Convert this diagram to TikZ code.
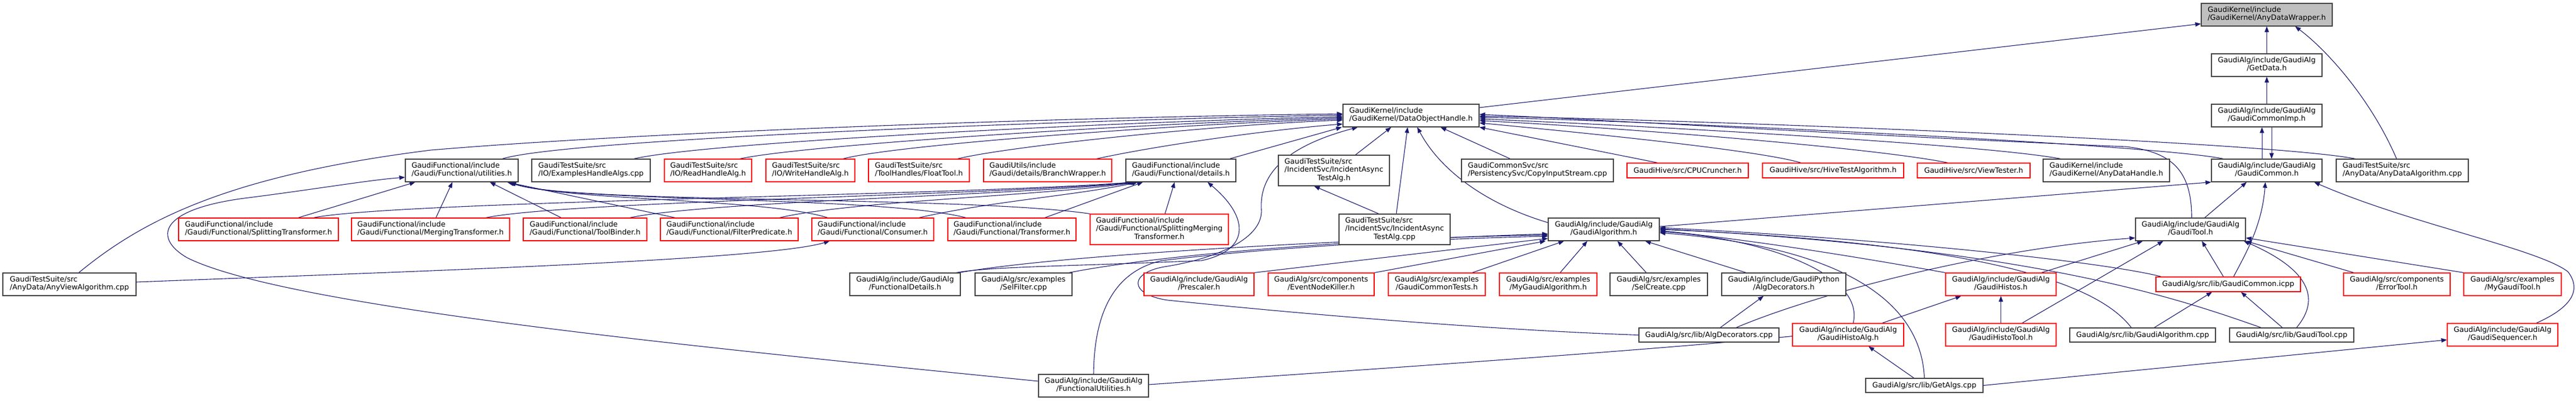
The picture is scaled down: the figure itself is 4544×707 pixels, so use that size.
\documentclass[tikz,border=0pt]{standalone}
\usepackage{fontspec}
\setmainfont{DejaVu Sans}
\usetikzlibrary{arrows.meta}
\pgfdeclarelayer{background}
\pgfsetlayers{background,main}
\definecolor{mb}{RGB}{25,25,112}
\definecolor{bd}{RGB}{64,64,64}
\definecolor{rd}{RGB}{255,0,0}
\definecolor{rootfill}{RGB}{191,191,191}
\newcommand{\two}[2]{\begin{tabular}{@{}l@{}}#1\\\multicolumn{1}{@{}c@{}}{#2}\end{tabular}}
\newcommand{\three}[3]{\begin{tabular}{@{}l@{}}#1\\#2\\\multicolumn{1}{@{}c@{}}{#3}\end{tabular}}
\newcommand{\nd}[7]{\node[#2, minimum width=#5pt, minimum height=#6pt] (#1) at (#3,#4) {#7};}
\tikzset{
 box/.style={draw=bd, line width=1.2pt, fill=white, inner sep=0pt, font=\fontsize{12.9}{14.2}\selectfont, text=black},
 rbox/.style={box, draw=rd},
 edge/.style={draw=mb, line width=1.1pt, {Triangle[length=10pt,width=7.5pt]}-},
}
\begin{document}
\begin{tikzpicture}[x=1pt,y=-1pt]
\useasboundingbox (0,0) rectangle (4544,707);
% row 0-2
\nd{root}{box,fill=rootfill}{3998.5}{26}{231}{40}{\two{GaudiKernel/include}{/GaudiKernel/AnyDataWrapper.h}}
\nd{getdata}{box}{3998.5}{115}{195}{40}{\two{GaudiAlg/include/GaudiAlg}{/GetData.h}}
\nd{commonimp}{box}{3998.5}{204}{195}{40}{\two{GaudiAlg/include/GaudiAlg}{/GaudiCommonImp.h}}
\nd{doh}{box}{2489}{204}{240}{40}{\two{GaudiKernel/include}{/GaudiKernel/DataObjectHandle.h}}
% row 3
\nd{utilities}{box}{814.5}{301}{199}{40}{\two{GaudiFunctional/include}{/Gaudi/Functional/utilities.h}}
\nd{exhandle}{box}{1042.5}{301}{209}{40}{\two{GaudiTestSuite/src}{/IO/ExamplesHandleAlgs.cpp}}
\nd{readh}{rbox}{1249}{301}{154}{40}{\two{GaudiTestSuite/src}{/IO/ReadHandleAlg.h}}
\nd{writeh}{rbox}{1429.5}{301}{157}{40}{\two{GaudiTestSuite/src}{/IO/WriteHandleAlg.h}}
\nd{floattool}{rbox}{1621}{301}{178}{40}{\two{GaudiTestSuite/src}{/ToolHandles/FloatTool.h}}
\nd{branch}{rbox}{1848}{301}{226}{40}{\two{GaudiUtils/include}{/Gaudi/details/BranchWrapper.h}}
\nd{details}{box}{2083}{301}{194}{40}{\two{GaudiFunctional/include}{/Gaudi/Functional/details.h}}
\nd{incalgh}{box}{2353}{301}{196}{54}{\three{GaudiTestSuite/src}{/IncidentSvc/IncidentAsync}{TestAlg.h}}
\nd{copyin}{box}{2712}{301}{268}{40}{\two{GaudiCommonSvc/src}{/PersistencySvc/CopyInputStream.cpp}}
\nd{cpu}{rbox}{2977}{301}{214}{26}{GaudiHive/src/CPUCruncher.h}
\nd{hivetest}{rbox}{3233.5}{301}{249}{26}{GaudiHive/src/HiveTestAlgorithm.h}
\nd{viewtester}{rbox}{3481.5}{301}{199}{26}{GaudiHive/src/ViewTester.h}
\nd{anydatahandle}{box}{3715.5}{301}{223}{40}{\two{GaudiKernel/include}{/GaudiKernel/AnyDataHandle.h}}
\nd{gaudicommon}{box}{3998.5}{301}{195}{40}{\two{GaudiAlg/include/GaudiAlg}{/GaudiCommon.h}}
\nd{anydataalg}{box}{4237.5}{301}{233}{40}{\two{GaudiTestSuite/src}{/AnyData/AnyDataAlgorithm.cpp}}
% row 4
\nd{splittrans}{rbox}{456}{405}{282}{40}{\two{GaudiFunctional/include}{/Gaudi/Functional/SplittingTransformer.h}}
\nd{mergtrans}{rbox}{759.5}{405}{279}{40}{\two{GaudiFunctional/include}{/Gaudi/Functional/MergingTransformer.h}}
\nd{toolbinder}{rbox}{1032}{405}{218}{40}{\two{GaudiFunctional/include}{/Gaudi/Functional/ToolBinder.h}}
\nd{filterpred}{rbox}{1286.5}{405}{243}{40}{\two{GaudiFunctional/include}{/Gaudi/Functional/FilterPredicate.h}}
\nd{consumer}{rbox}{1539.5}{405}{215}{40}{\two{GaudiFunctional/include}{/Gaudi/Functional/Consumer.h}}
\nd{transformer}{rbox}{1785}{405}{226}{40}{\two{GaudiFunctional/include}{/Gaudi/Functional/Transformer.h}}
\nd{splitmerg}{rbox}{2045}{405}{244}{54}{\three{GaudiFunctional/include}{/Gaudi/Functional/SplittingMerging}{Transformer.h}}
\nd{incalgcpp}{box}{2460}{405}{196}{54}{\three{GaudiTestSuite/src}{/IncidentSvc/IncidentAsync}{TestAlg.cpp}}
\nd{gaudialgh}{box}{2829}{405}{196}{40}{\two{GaudiAlg/include/GaudiAlg}{/GaudiAlgorithm.h}}
\nd{gauditool}{box}{3864}{405}{194}{40}{\two{GaudiAlg/include/GaudiAlg}{/GaudiTool.h}}
% row 5
\nd{anyview}{box}{122.5}{502}{235}{40}{\two{GaudiTestSuite/src}{/AnyData/AnyViewAlgorithm.cpp}}
\nd{funcdetails}{box}{1596.5}{502}{195}{40}{\two{GaudiAlg/include/GaudiAlg}{/FunctionalDetails.h}}
\nd{selfilter}{box}{1805.5}{502}{171}{40}{\two{GaudiAlg/src/examples}{/SelFilter.cpp}}
\nd{prescaler}{rbox}{2115}{502}{194}{40}{\two{GaudiAlg/include/GaudiAlg}{/Prescaler.h}}
\nd{eventnode}{rbox}{2330.5}{502}{187}{40}{\two{GaudiAlg/src/components}{/EventNodeKiller.h}}
\nd{commontests}{rbox}{2534.5}{502}{171}{40}{\two{GaudiAlg/src/examples}{/GaudiCommonTests.h}}
\nd{mygaudialg}{rbox}{2731}{502}{172}{40}{\two{GaudiAlg/src/examples}{/MyGaudiAlgorithm.h}}
\nd{selcreate}{box}{2926}{502}{172}{40}{\two{GaudiAlg/src/examples}{/SelCreate.cpp}}
\nd{algdecoh}{box}{3146.5}{502}{219}{40}{\two{GaudiAlg/include/GaudiPython}{/AlgDecorators.h}}
\nd{gaudihistos}{rbox}{3529.5}{502}{195}{40}{\two{GaudiAlg/include/GaudiAlg}{/GaudiHistos.h}}
\nd{commonicpp}{rbox}{3930.5}{502}{255}{26}{GaudiAlg/src/lib/GaudiCommon.icpp}
\nd{errortool}{rbox}{4228}{502}{188}{40}{\two{GaudiAlg/src/components}{/ErrorTool.h}}
\nd{mygauditool}{rbox}{4432}{502}{172}{40}{\two{GaudiAlg/src/examples}{/MyGaudiTool.h}}
% row 6
\nd{algdecocpp}{box}{3014.5}{591.5}{247}{25}{GaudiAlg/src/lib/AlgDecorators.cpp}
\nd{histoalg}{rbox}{3260}{591}{196}{40}{\two{GaudiAlg/include/GaudiAlg}{/GaudiHistoAlg.h}}
\nd{histotool}{rbox}{3529.5}{591}{195}{40}{\two{GaudiAlg/include/GaudiAlg}{/GaudiHistoTool.h}}
\nd{gaudialgcpp}{box}{3779.5}{591.5}{257}{25}{GaudiAlg/src/lib/GaudiAlgorithm.cpp}
\nd{gauditoolcpp}{box}{4042.5}{591.5}{219}{25}{GaudiAlg/src/lib/GaudiTool.cpp}
\nd{sequencer}{rbox}{4414.5}{591}{195}{40}{\two{GaudiAlg/include/GaudiAlg}{/GaudiSequencer.h}}
% row 7
\nd{funcutil}{box}{1929}{681}{194}{40}{\two{GaudiAlg/include/GaudiAlg}{/FunctionalUtilities.h}}
\nd{getalgs}{box}{3394.5}{680.5}{207}{25}{GaudiAlg/src/lib/GetAlgs.cpp}

\begin{pgfonlayer}{background}
% into root
\draw[edge] ([yshift=-16pt]root.west) -- ([yshift=14pt]doh.east);
\draw[edge] (root) -- (getdata);
\draw[edge] ([xshift=50pt]root.south) .. controls (4100,85) and (4180,170) .. ([xshift=-10pt]anydataalg.north);
\draw[edge] (getdata) -- (commonimp);
\draw[edge] ([xshift=-8.5pt]commonimp.south) -- ([xshift=-8.5pt]gaudicommon.north);
\draw[edge] ([xshift=8.5pt]gaudicommon.north) -- ([xshift=8.5pt]commonimp.south);
% into doh, left
\draw[edge] ([yshift=3pt]doh.west) .. controls (2000,205) and (1200,228) .. (760,265) .. controls (400,310) and (250,390) .. ([xshift=16.5pt]anyview.north);
\draw[edge] ([yshift=1pt]doh.west) .. controls (1900,212) and (1000,245) .. ([xshift=71.5pt]utilities.north);
\draw[edge] ([yshift=-2pt]doh.west) .. controls (2000,214) and (1250,250) .. ([xshift=75.5pt]exhandle.north);
\draw[edge] ([yshift=-4pt]doh.west) .. controls (2050,216) and (1420,255) .. ([xshift=56pt]readh.north);
\draw[edge] ([yshift=-6pt]doh.west) .. controls (2100,218) and (1580,255) .. ([xshift=57.5pt]writeh.north);
\draw[edge] ([yshift=-8pt]doh.west) .. controls (2150,220) and (1780,258) .. ([xshift=68pt]floattool.north);
\draw[edge] ([yshift=-15pt]doh.west) .. controls (2250,228) and (2050,255) .. ([xshift=86pt]branch.north);
\draw[edge] ([xshift=-122pt]doh.south) -- ([xshift=86pt]details.north);
\draw[edge] ([xshift=-94pt]doh.south) .. controls (2300,250) and (2220,290) .. (2225,370) .. controls (2228,420) and (2150,455) .. (2060,470) .. controls (1990,480) and (1990,520) .. (2060,530) .. controls (2400,565) and (2700,585) .. (algdecocpp.west);
\draw[edge] ([xshift=-35pt]doh.south) -- ([xshift=38pt]incalgh.north);
\draw[edge] ([xshift=-6pt]doh.south) -- ([xshift=3pt]incalgcpp.north);
\draw[edge] ([xshift=11pt]doh.south) .. controls (2540,300) and (2620,360) .. ([yshift=12pt]gaudialgh.west);
\draw[edge] ([xshift=52pt]doh.south) -- ([xshift=-48pt]copyin.north);
\draw[edge] (doh.south east) -- ([xshift=-53pt]cpu.north);
% into doh, right
\draw[edge] ([yshift=-13pt]doh.east) .. controls (2800,235) and (3100,265) .. ([xshift=-56.5pt]hivetest.north);
\draw[edge] ([yshift=-9pt]doh.east) .. controls (2850,225) and (3300,260) .. ([xshift=-45.5pt]viewtester.north);
\draw[edge] ([yshift=-6pt]doh.east) .. controls (2900,222) and (3500,255) .. ([xshift=-80.5pt]anydatahandle.north);
\draw[edge] ([yshift=-3pt]doh.east) .. controls (2950,215) and (3800,255) .. ([xshift=-76.5pt]gaudicommon.north);
\draw[edge] ([yshift=-1pt]doh.east) .. controls (3000,212) and (4000,250) .. ([xshift=-82.5pt]anydataalg.north);
\draw[edge] ([yshift=2pt]doh.east) .. controls (2800,210) and (3300,240) .. (3750,259) .. controls (3830,268) and (3866,300) .. ([xshift=2pt]gauditool.north);
\draw[edge] ([xshift=-35pt]incalgh.south) -- ([xshift=-28pt]incalgcpp.north);
% into utilities
\draw[edge] ([yshift=-12pt]utilities.west) .. controls (650,318) and (550,335) .. (431,350) .. controls (280,370) and (270,420) .. (330,455) .. controls (500,540) and (1200,610) .. ([yshift=8pt]funcutil.west);
\draw[edge] ([xshift=-82pt]utilities.south) -- ([xshift=70pt]splittrans.north);
\draw[edge] ([xshift=-16.5pt]utilities.south) -- ([xshift=9.5pt]mergtrans.north);
\draw[edge] ([xshift=49.5pt]utilities.south) -- ([xshift=-42pt]toolbinder.north);
\draw[edge] ([xshift=80pt]utilities.south) -- ([xshift=-95.5pt]filterpred.north);
\draw[edge] ([xshift=82pt]utilities.south) .. controls (1000,355) and (1350,350) .. ([xshift=-79.5pt]consumer.north);
\draw[edge] ([xshift=84pt]utilities.south) .. controls (1000,358) and (1550,345) .. ([xshift=-81pt]transformer.north);
\draw[edge] ([xshift=86pt]utilities.south) .. controls (1000,360) and (1700,345) .. (splitmerg.north west);
% into details
\draw[edge] ([xshift=-84pt]details.south) .. controls (1700,345) and (700,355) .. ([xshift=97pt]splittrans.north);
\draw[edge] ([xshift=-82pt]details.south) .. controls (1750,345) and (1000,355) .. ([xshift=97.5pt]mergtrans.north);
\draw[edge] ([xshift=-80pt]details.south) .. controls (1800,345) and (1250,355) .. ([xshift=79pt]toolbinder.north);
\draw[edge] ([xshift=-78pt]details.south) .. controls (1850,345) and (1500,355) .. ([xshift=88.5pt]filterpred.north);
\draw[edge] ([xshift=-76pt]details.south) .. controls (1900,345) and (1750,355) .. ([xshift=81.5pt]consumer.north);
\draw[edge] ([xshift=-67pt]details.south) -- ([xshift=58pt]transformer.north);
\draw[edge] ([xshift=-11pt]details.south) -- ([xshift=10pt]splitmerg.north);
\draw[edge] ([xshift=47pt]details.south) .. controls (2200,380) and (2210,440) .. (2120,460) .. controls (1900,470) and (1750,470) .. ([xshift=90pt]funcdetails.north);
% anyview -> consumer
\draw[edge] ([xshift=-76pt]consumer.south) .. controls (1350,460) and (700,480) .. ([yshift=4pt]anyview.east);
% into GaudiAlgorithm.h from left and below
\draw[edge] ([yshift=-8pt]gaudialgh.west) .. controls (2500,420) and (2100,440) .. ([xshift=80pt]selfilter.north);
\draw[edge] ([yshift=-10pt]gaudialgh.west) .. controls (2500,418) and (1900,445) .. ([xshift=95pt]funcdetails.north);
\draw[edge] ([yshift=-12pt]gaudialgh.west) .. controls (2600,420) and (2300,430) .. (2050,460) .. controls (1960,480) and (1930,560) .. (funcutil.north);
\draw[edge] ([yshift=-16pt]gaudialgh.west) -- (prescaler.north east);
\draw[edge] ([xshift=-4pt]gaudialgh.south west) -- (eventnode.north east);
\draw[edge] ([xshift=-70pt]gaudialgh.south) -- ([xshift=62.5pt]commontests.north);
\draw[edge] ([xshift=-29pt]gaudialgh.south) -- ([xshift=21pt]mygaudialg.north);
\draw[edge] ([xshift=24pt]gaudialgh.south) -- ([xshift=-22pt]selcreate.north);
\draw[edge] ([xshift=73pt]gaudialgh.south) -- ([xshift=-66.5pt]algdecoh.north);
\draw[edge] (gaudicommon.south west) -- ([yshift=5pt]gaudialgh.east);
% into GaudiAlgorithm.h from right
\draw[edge] ([yshift=-2pt]gaudialgh.east) .. controls (3050,420) and (3200,440) .. (gaudihistos.north west);
\draw[edge] ([yshift=-4pt]gaudialgh.east) .. controls (3100,420) and (3290,480) .. ([xshift=9pt]histoalg.north);
\draw[edge] ([yshift=-6pt]gaudialgh.east) .. controls (3300,440) and (3390,560) .. (getalgs.north);
\draw[edge] ([yshift=0pt]gaudialgh.east) .. controls (3500,430) and (3700,500) .. ([xshift=-20pt]gaudialgcpp.north);
\draw[edge] ([yshift=1pt]gaudialgh.east) .. controls (3600,440) and (3850,530) .. ([xshift=-54pt]gauditoolcpp.north);
\draw[edge] ([yshift=3pt]gaudialgh.east) .. controls (3300,420) and (3700,460) .. ([xshift=-118pt]commonicpp.north);
% histos
\draw[edge] ([xshift=-70pt]gaudihistos.south) -- ([xshift=60pt]histoalg.north);
\draw[edge] (gaudihistos) -- (histotool);
\draw[edge] ([xshift=-84pt]gauditool.south) -- ([xshift=71.5pt]gaudihistos.north);
\draw[edge] ([xshift=-48pt]gauditool.south) -- ([xshift=37.5pt]histotool.north);
\draw[edge] ([yshift=-15pt]gauditool.west) .. controls (3500,440) and (3200,520) .. ([xshift=48pt]algdecocpp.north);
\draw[edge] ([xshift=-35.5pt]algdecoh.south) -- ([xshift=20pt]algdecocpp.north);
\draw[edge] ([xshift=36pt]histoalg.south) -- ([xshift=-18.5pt]getalgs.north);
\draw[edge] ([xshift=26pt]histoalg.west) .. controls (2900,620) and (2300,660) .. ([yshift=2pt]funcutil.east);
\draw[edge] ([yshift=-9pt]sequencer.west) -- (getalgs.east);
% GaudiCommon.icpp, tools
\draw[edge] ([xshift=-28.5pt]commonicpp.south) -- ([xshift=20.5pt]gaudialgcpp.north);
\draw[edge] ([xshift=22.5pt]commonicpp.south) -- ([xshift=-16.5pt]gauditoolcpp.north);
\draw[edge] ([xshift=94pt]gauditool.south) .. controls (4060,470) and (4100,520) .. ([xshift=8.5pt]gauditoolcpp.north);
\draw[edge] ([xshift=20pt]gauditool.south) -- ([xshift=-8.5pt]commonicpp.north);
\draw[edge] ([xshift=-2.5pt]gaudicommon.south) .. controls (3990,400) and (3960,450) .. ([xshift=9.5pt]commonicpp.north);
\draw[edge] ([xshift=-35.5pt]gaudicommon.south) -- ([xshift=25pt]gauditool.north);
\draw[edge] (gauditool.south east) -- ([xshift=-76pt]errortool.north);
\draw[edge] ([yshift=-15pt]gauditool.east) -- ([xshift=-86pt]mygauditool.north);
\draw[edge] ([xshift=83.5pt]gaudicommon.south) .. controls (4250,395) and (4480,440) .. (4530,480) .. controls (4560,520) and (4520,550) .. ([xshift=59.5pt]sequencer.north);
\end{pgfonlayer}
\end{tikzpicture}
\end{document}
